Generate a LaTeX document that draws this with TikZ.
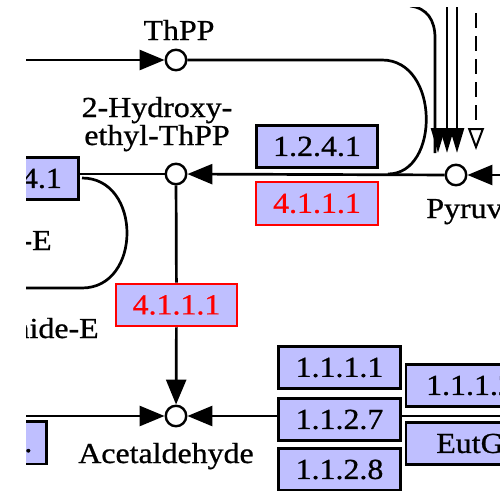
\documentclass[tikz,border=0pt]{standalone}
\usepackage{fontspec}
\setmainfont{Liberation Serif}[FakeStretch=1.1,FakeBold=0.8]
\usetikzlibrary{arrows.meta}
\definecolor{boxc}{RGB}{191,191,255}
\definecolor{keggred}{RGB}{255,0,0}
\tikzset{
  ebox/.style={draw=black, fill=boxc, line width=2.6pt, minimum width=121.5pt, minimum height=42.5pt, inner sep=0pt},
  rbox/.style={ebox, draw=keggred, text=keggred, line width=2.2pt},
  cpd/.style={circle, draw=black, fill=white, line width=2.4pt, minimum size=20.5pt, inner sep=0pt},
  lbl/.style={inner sep=0pt, anchor=base},
  tip/.style={-{Triangle[length=25pt,width=20pt]}},
  smalltip/.style={-{Triangle[length=25pt,width=14pt]}},
  opentip/.style={-{Triangle[open,length=22pt,width=16pt]}},
}
\begin{document}
\begin{tikzpicture}[x=1pt, y=-1pt, line width=2.7pt, font=\fontsize{29}{28}\selectfont]
\useasboundingbox (0,0) rectangle (500,490);
\begin{scope}
\clip (26,7) rectangle (500,490);

% compounds
\node[cpd] (c1) at (176,60) {};
\node[cpd] (c2) at (176,174) {};
\node[cpd] (c3) at (456,175) {};
\node[cpd] (c4) at (176,416) {};

% labels
\node[lbl] (l1) at (179,40) {ThPP};
\node[lbl] (l2a) at (157,117) {2-Hydroxy-};
\node[lbl] (l2b) at (157,145) {ethyl-ThPP};
\node[lbl, anchor=base west] (l3) at (425,218) {Pyruvate};
\node[lbl] (l4) at (166,463) {Acetaldehyde};
\node[lbl, anchor=base east] (l5) at (53,250) {Lipoamide-E};
\node[lbl, anchor=base east] (l6) at (100,338) {Dihydrolipoamide-E};

% enzymes
\node[ebox] (e0) at (18,178.5) {1.2.4.1};
\node[ebox] (e1) at (317,146.5) {1.2.4.1};
\node[rbox] (e2) at (317,203.5) {4.1.1.1};
\node[rbox] (e3) at (176.5,305) {4.1.1.1};
\node[ebox] (e4) at (339.5,367.5) {1.1.1.1};
\node[ebox] (e5) at (339.5,419.5) {1.1.2.7};
\node[ebox] (e6) at (339.5,469.5) {1.1.2.8};
\node[ebox, minimum width=128pt] (e7) at (470,385.5) {1.1.1.2};
\node[ebox, minimum width=128pt] (e8) at (470,443.5) {EutG};
\node[ebox, anchor=north east] (e9) at (48,420) {};
\node[lbl, anchor=base west] (e9t) at (23,452) {.};

% free ends
\coordinate (a0) at (20,60);
\coordinate (a1) at (382,60);
\coordinate (a2) at (388,174);
\coordinate (b0) at (82,178);
\coordinate (b1) at (82,288);
\coordinate (b2) at (20,288);
\coordinate (p0) at (510,175);
\coordinate (d0) at (20,416);
\coordinate (d1) at (510,416);
\coordinate (v0) at (410,6);
\coordinate (v1) at (435,38);
\coordinate (v2) at (435,153);
\coordinate (w1t) at (447,0);
\coordinate (w1b) at (447,153);
\coordinate (w2t) at (457,0);
\coordinate (w2b) at (457,153);
\coordinate (w0b) at (438,153);
\coordinate (w0t) at (438,128);
\coordinate (dt) at (476,13);
\coordinate (db) at (476,150);

% connectors
\draw[tip] (a0) -- (c1);
\draw (c1) -- (a1) .. controls (440,60) and (440,174) .. (a2);
\draw[tip] (c3) -- (c2);
\draw (c2) -- (c2 -| e0.east);
\draw[tip] (p0) -- (c3);
\draw (b0) .. controls (142,178) and (142,288) .. (b1) -- (b2);
\draw (c2) -- (e3);
\draw[tip] (e3) -- (c4);
\draw[tip] (d0) -- (c4);
\draw[tip] (c4 -| e5.west) -- (c4);
\draw (c4 -| e5.east) -- (d1);
\draw (v0) .. controls (427,8) and (435,20) .. (v1) -- (v2);
\draw[smalltip] (w0t) -- (w0b);
\draw[smalltip] (w1t) -- (w1b);
\draw[smalltip] (w2t) -- (w2b);
\draw[opentip, line width=2pt, dash pattern=on 15pt off 8pt] (dt) -- (db);
\end{scope}
\end{tikzpicture}
\end{document}
